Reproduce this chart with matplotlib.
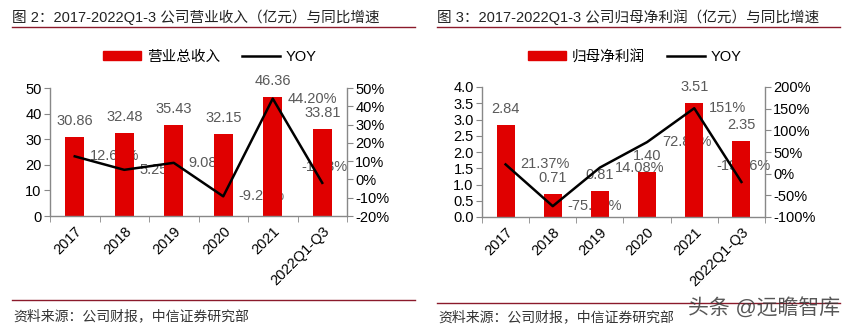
import matplotlib
matplotlib.use("Agg")
from matplotlib import pyplot as plt
from matplotlib.lines import Line2D
from matplotlib.patches import Patch

plt.rcParams['font.family'] = ['Liberation Sans', 'Noto Sans CJK SC']
plt.rcParams['axes.unicode_minus'] = False

categories = ["2017", "2018", "2019", "2020", "2021", "2022Q1-Q3"]

revenue = [30.86, 32.48, 35.43, 32.15, 46.36, 33.81]
revenue_yoy = [12.63, 5.25, 9.08, -9.26, 44.20, -1.88]
revenue_yoy_text = ["12.63%", "5.25%", "9.08%", "-9.26%", "44.20%", "-1.88%"]

profit = [2.84, 0.71, 0.81, 1.40, 3.51, 2.35]
profit_yoy = [21.37, -75.00, 14.08, 72.84, 151.0, -19.16]
profit_yoy_text = ["21.37%", "-75.00%", "14.08%", "72.84%", "151%", "-19.16%"]

W, H = 850, 329
RED = "#E00000"
GRAY_AX = "#888888"
LABEL = "#595959"


def px_box(x0, y0, x1, y1):
    return [x0 / W, 1 - y1 / H, (x1 - x0) / W, (y1 - y0) / H]


def draw_panel(fig, box, bars, bar_name, yoy, yoy_text, ylim, yticks, yfmt,
               y2lim, y2ticks):
    ax = fig.add_axes(box)
    ax2 = ax.twinx()
    x = list(range(len(categories)))

    ax.bar(x, bars, width=0.38, color=RED, zorder=2)
    for xi, v in zip(x, bars):
        ax.annotate(f"{v:.2f}", (xi, v), xytext=(0, 16), textcoords="offset pixels",
                    ha="center", va="center", fontsize=10.5, color=LABEL, zorder=3)

    ax2.plot(x, yoy, color="black", lw=1.8, zorder=3)
    ax2.set_ylim(*y2lim)
    # line labels sit behind the bars
    for i, (xi, v, s) in enumerate(zip(x, yoy, yoy_text)):
        if i == len(x) - 1:
            ax.annotate(s, (xi, v), xycoords=ax2.transData, xytext=(2, 16),
                        textcoords="offset pixels", ha="center", va="center",
                        fontsize=10.5, color=LABEL, zorder=1)
        else:
            ax.annotate(s, (xi, v), xycoords=ax2.transData, xytext=(15, 0),
                        textcoords="offset pixels", ha="left", va="center",
                        fontsize=10.5, color=LABEL, zorder=1)

    ax.set_xlim(-0.5, len(x) - 0.5)
    ax.set_ylim(*ylim)
    ax.set_yticks(yticks)
    ax.set_yticklabels([yfmt.format(t) for t in yticks])
    ax2.set_yticks(y2ticks)
    ax2.set_yticklabels([f"{t:.0f}%" for t in y2ticks])

    ax.set_xticks(x)
    ax.set_xticklabels(categories, rotation=45, ha="right", rotation_mode="anchor")
    ax.set_xticks([i - 0.5 for i in range(len(x) + 1)], minor=True)
    ax.tick_params(axis="x", which="major", length=0, pad=6, labelsize=10.5, colors="black")
    ax.tick_params(axis="x", which="minor", length=4, color=GRAY_AX)
    ax.tick_params(axis="y", length=4, color=GRAY_AX, labelsize=10.5, pad=2)
    ax2.tick_params(axis="y", length=4, color=GRAY_AX, labelsize=10.5, pad=2)

    for a in (ax, ax2):
        a.spines["top"].set_visible(False)
        for side in ("left", "right", "bottom"):
            a.spines[side].set_color(GRAY_AX)
            a.spines[side].set_linewidth(1.0)
    ax.spines["right"].set_visible(False)
    ax2.spines["left"].set_visible(False)
    ax2.spines["bottom"].set_visible(False)
    return ax


fig = plt.figure(figsize=(W / 100, H / 100), dpi=100)

draw_panel(fig, px_box(50, 88, 347, 216), revenue, "营业总收入", revenue_yoy,
           revenue_yoy_text, (0, 50), [0, 10, 20, 30, 40, 50], "{:.0f}",
           (-20, 50), [-20, -10, 0, 10, 20, 30, 40, 50])
draw_panel(fig, px_box(482, 87, 765, 217), profit, "归母净利润", profit_yoy,
           profit_yoy_text, (0, 4.0), [0, 0.5, 1.0, 1.5, 2.0, 2.5, 3.0, 3.5, 4.0], "{:.1f}",
           (-100, 200), [-100, -50, 0, 50, 100, 150, 200])

# titles, rules and legends
titles = ["图 2：2017-2022Q1-3 公司营业收入（亿元）与同比增速",
          "图 3：2017-2022Q1-3 公司归母净利润（亿元）与同比增速"]
legend_names = ["营业总收入", "归母净利润"]
for (x0, x1), title, name, lx in zip([(12, 415), (437, 840)], titles, legend_names,
                                     [210, 635]):
    fig.text(x0 / W, 1 - 17 / H, title, fontsize=10.5, color="#222222",
             ha="left", va="center")
    fig.add_artist(Line2D([x0 / W, x1 / W], [1 - 27 / H] * 2, color="#8B1A2B", lw=1.0))
    fig.legend(handles=[Patch(color=RED, label=name),
                        Line2D([], [], color="black", lw=1.8, label="YOY")],
               loc="center", bbox_to_anchor=(lx / W, 1 - 57 / H), ncol=2,
               frameon=False, fontsize=10.5, handlelength=2.6, handleheight=0.6,
               handletextpad=0.4, columnspacing=1.5)

# source notes
fig.add_artist(Line2D([12 / W, 415 / W], [1 - 300 / H] * 2, color="#8B1A2B", lw=1.0))
fig.add_artist(Line2D([437 / W, 840 / W], [1 - 303 / H] * 2, color="#8B1A2B", lw=1.0))
fig.text(13 / W, 1 - 316 / H, "资料来源：公司财报，中信证券研究部", fontsize=10,
         color="#333333", ha="left", va="center")
fig.text(438 / W, 1 - 317 / H, "资料来源：公司财报，中信证券研究部", fontsize=10,
         color="#333333", ha="left", va="center")
fig.text(840 / W, 1 - 308 / H, "头条 @远瞻智库", fontsize=15, color="#3a3a3a",
         ha="right", va="center", alpha=0.85)

fig.savefig("out.png", dpi=100)
